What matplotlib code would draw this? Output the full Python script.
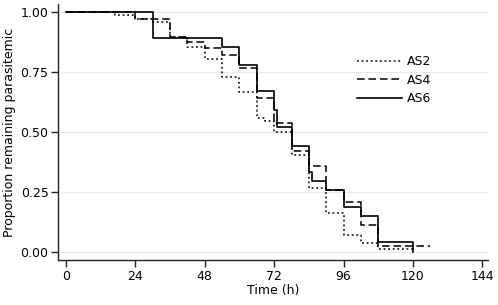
import matplotlib
matplotlib.use("Agg")
import matplotlib.pyplot as plt

# Kaplan-Meier style step data (time in hours, proportion remaining parasitemic)
as2_time = [0, 17, 24, 30, 36, 42, 48, 54, 60, 66, 69, 72, 78, 84, 90, 96, 102, 108, 120]
as2_prop = [1.0, 0.987, 0.973, 0.958, 0.897, 0.854, 0.803, 0.729, 0.666, 0.557, 0.546,
            0.501, 0.405, 0.264, 0.160, 0.069, 0.037, 0.013, 0.0]

as4_time = [0, 24, 36, 42, 48, 54, 60, 66, 72, 78, 84, 90, 96, 102, 108, 126]
as4_prop = [1.0, 0.973, 0.899, 0.877, 0.849, 0.823, 0.767, 0.644, 0.539, 0.420, 0.357,
            0.257, 0.206, 0.110, 0.022, 0.022]

as6_time = [0, 30, 54, 60, 66, 72, 73, 78, 84, 85, 90, 96, 102, 108, 120]
as6_prop = [1.0, 0.892, 0.856, 0.779, 0.673, 0.590, 0.522, 0.443, 0.334, 0.297, 0.257,
            0.185, 0.147, 0.040, 0.0]

x_ticks = [0, 24, 48, 72, 96, 120, 144]
y_ticks = [0.0, 0.25, 0.5, 0.75, 1.0]

plt.rcParams["font.family"] = ["DejaVu Sans"]
plt.rcParams["font.size"] = 9

fig = plt.figure(figsize=(4.98, 3.05), dpi=100)
ax = fig.add_axes([0.117, 0.1475, 0.863, 0.8395])

for y in y_ticks:
    ax.axhline(y, color="#e1ecec", linewidth=0.9, zorder=0)

ax.step(as2_time, as2_prop, where="post", color="black", linewidth=1.1,
        linestyle=(0, (1.2, 1.8)), label="AS2")
ax.step(as4_time, as4_prop, where="post", color="black", linewidth=1.1,
        linestyle=(0, (5, 2.5)), label="AS4")
ax.step(as6_time, as6_prop, where="post", color="black", linewidth=1.2,
        linestyle="-", label="AS6")

ax.set_xlim(-2.7, 146)
ax.set_ylim(-0.035, 1.035)
ax.set_xticks(x_ticks)
ax.set_yticks(y_ticks)
ax.set_yticklabels([f"{v:.2f}" for v in y_ticks])
ax.set_xlabel("Time (h)", labelpad=1)
ax.set_ylabel("Proportion remaining parasitemic", labelpad=3)

for side in ("top", "right"):
    ax.spines[side].set_visible(False)
for side in ("left", "bottom"):
    ax.spines[side].set_linewidth(1.0)
    ax.spines[side].set_color("#222222")
ax.tick_params(direction="out", length=5, width=1.0, color="#222222", pad=2)

ax.legend(loc="upper left", bbox_to_anchor=(0.68, 0.825), frameon=False,
          handlelength=3.6, handletextpad=0.4, labelspacing=0.45, borderpad=0)

fig.savefig("out.png", dpi=100)
